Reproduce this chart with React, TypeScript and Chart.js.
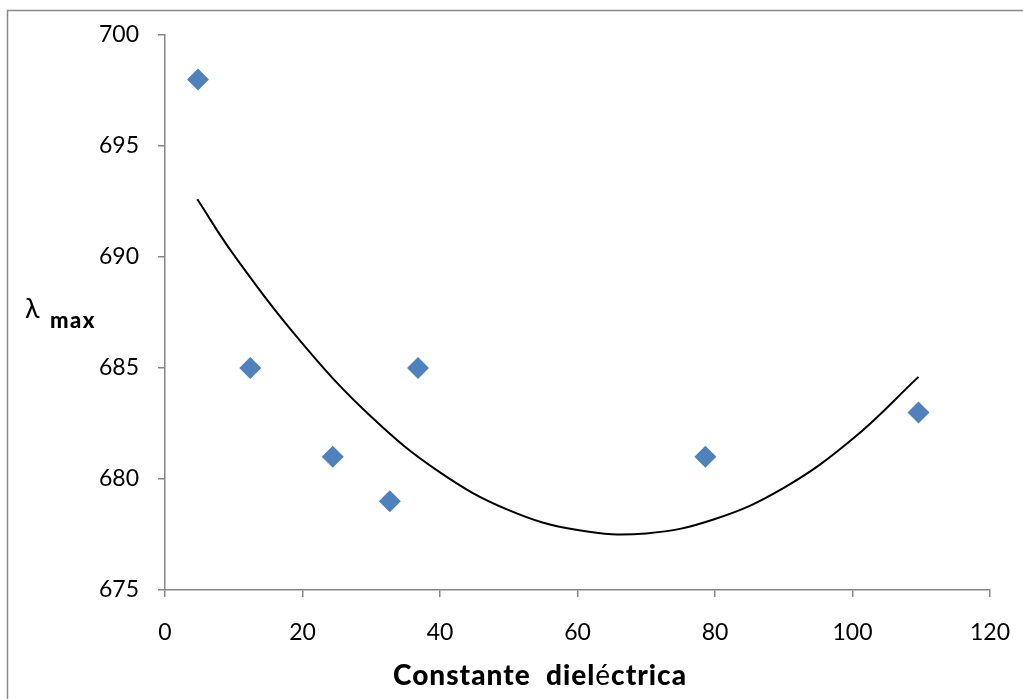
import React, { useEffect, useRef } from "react";
import { Chart, registerables } from "chart.js";
Chart.register(...registerables);

// Measured points
const pointX = [4.8, 12.4, 24.4, 32.7, 36.8, 78.6, 109.6];
const pointY = [698, 685, 681, 679, 685, 681, 683];

// Polynomial trend line at sample positions
const trendX = [4.7, 10, 20, 30, 40, 50, 60, 70, 80, 90, 100, 109.6];
const trendY = [692.6, 690.1, 686.1, 682.8, 680.3, 678.6, 677.7, 677.55, 678.2, 679.6, 681.8, 684.6];

const xTicks = [0, 20, 40, 60, 80, 100, 120];
const yTicks = [675, 680, 685, 690, 695, 700];

const xTitleParts = ["Constante  diel", "é", "ctrica"];
const yTitleMain = "λ";
const yTitleSub = "max";

const AXIS_GRAY = "#868686";
const MARKER = "#4F81BD";

const decorPlugin = {
  id: "decor",
  afterDraw(chart: any) {
    const ctx = chart.ctx as any;
    ctx.save();
    // outer chart border
    ctx.strokeStyle = "#8a8a8a";
    ctx.lineWidth = 1.5;
    ctx.strokeRect(7.5, 10.5, 2000, 2000);

    // x title with mixed fonts
    const fonts = ["900 28px Lato", "28px Lato", "900 28px Lato"];
    ctx.letterSpacing = "1px";
    let total = 0;
    const widths: number[] = [];
    xTitleParts.forEach((p, i) => {
      ctx.font = fonts[i];
      const w = ctx.measureText(p).width;
      widths.push(w);
      total += w;
    });
    let x = 540 - total / 2;
    ctx.fillStyle = "#000";
    ctx.textBaseline = "alphabetic";
    ctx.textAlign = "left";
    xTitleParts.forEach((p, i) => {
      ctx.font = fonts[i];
      ctx.fillText(p, x, 685);
      x += widths[i];
    });

    // y title
    ctx.letterSpacing = "0px";
    ctx.font = "27px Lato";
    ctx.fillText(yTitleMain, 25, 318);
    ctx.letterSpacing = "1.5px";
    ctx.font = "900 22px Lato";
    ctx.fillText(yTitleSub, 50, 328);
    ctx.restore();
  },
};

export default function App() {
  const ref = useRef<HTMLCanvasElement | null>(null);
  useEffect(() => {
    if (!ref.current) return;
    const chart = new Chart(ref.current, {
      type: "scatter",
      data: {
        datasets: [
          {
            label: "trend",
            type: "line",
            data: trendX.map((x, i) => ({ x, y: trendY[i] })),
            borderColor: "#000",
            borderWidth: 2,
            pointRadius: 0,
            tension: 0.4,
            fill: false,
            order: 2,
          } as any,
          {
            label: "λmax",
            data: pointX.map((x, i) => ({ x, y: pointY[i] })),
            pointStyle: "rectRot",
            pointRadius: 11,
            backgroundColor: MARKER,
            borderColor: MARKER,
            borderWidth: 0,
            order: 1,
          },
        ],
      },
      options: {
        animation: false,
        responsive: true,
        maintainAspectRatio: false,
        layout: { padding: { left: 0, top: 35, right: 33, bottom: 0 } },
        plugins: { legend: { display: false }, tooltip: { enabled: false } },
        scales: {
          x: {
            type: "linear",
            min: 0,
            max: 120,
            afterBuildTicks: (s: any) => {
              s.ticks = xTicks.map((v) => ({ value: v }));
            },
            afterFit: (s: any) => {
              s.height = 109;
              s.paddingLeft = 0;
              s.paddingRight = 0;
            },
            ticks: {
              color: "#000",
              font: { family: "Lato", size: 23 },
              padding: 22,
              maxRotation: 0,
            },
            grid: {
              drawOnChartArea: false,
              drawTicks: true,
              tickLength: 7,
              color: AXIS_GRAY,
              lineWidth: 1.5,
            },
            border: { display: true, color: AXIS_GRAY, width: 1.5 },
          },
          y: {
            type: "linear",
            min: 675,
            max: 700,
            afterBuildTicks: (s: any) => {
              s.ticks = yTicks.map((v) => ({ value: v }));
            },
            afterFit: (s: any) => {
              s.width = 165;
            },
            ticks: {
              color: "#000",
              font: { family: "Lato", size: 23 },
              padding: 19,
            },
            grid: {
              drawOnChartArea: false,
              drawTicks: true,
              tickLength: 7,
              color: AXIS_GRAY,
              lineWidth: 1.5,
            },
            border: { display: true, color: AXIS_GRAY, width: 1.5 },
          },
        },
      },
      plugins: [decorPlugin],
    });
    return () => chart.destroy();
  }, []);
  return (
    <div style={{ position: "fixed", left: 0, top: 0, width: 1023, height: 699, background: "#fff" }}>
      <canvas ref={ref} />
    </div>
  );
}
